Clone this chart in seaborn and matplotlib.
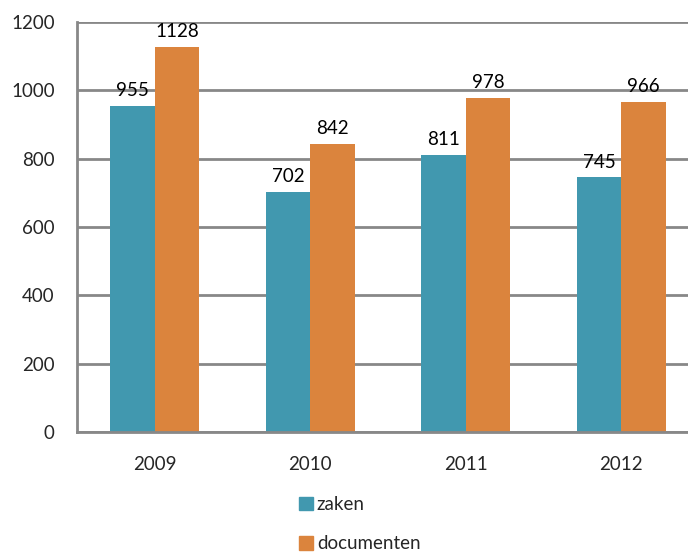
import pandas as pd
import seaborn as sns
import matplotlib.pyplot as plt
from matplotlib.patches import Patch

years = ['2009', '2010', '2011', '2012']
zaken = [955, 702, 811, 745]
documenten = [1128, 842, 978, 966]
series = ['zaken', 'documenten']
colors = ['#4198AF', '#DB843D']

df = pd.DataFrame({'jaar': years * 2,
                   'aantal': zaken + documenten,
                   'soort': ['zaken'] * 4 + ['documenten'] * 4})

sns.set_style('white')
plt.rcParams['font.family'] = ['Lato', 'DejaVu Sans']
fs = 13.5

fig = plt.figure(figsize=(6.88, 5.53), dpi=100)
ax = fig.add_axes([0.112, 0.219, 0.904, 0.741])

sns.barplot(data=df, x='jaar', y='aantal', hue='soort', hue_order=series,
            palette=colors, width=0.57, saturation=1, ax=ax, legend=False,
            edgecolor='none')

for c in ax.containers:
    ax.bar_label(c, fontsize=fs, padding=5, color='black')

ax.set_ylim(0, 1200)
ax.set_yticks(range(0, 1201, 200))
ax.set_xlim(-0.5, 3.5)
ax.set_xticks([-0.5, 0.5, 1.5, 2.5, 3.5], minor=False)
ax.set_xticklabels([''] * 5)
ax.set_xticks(range(4), minor=True)
ax.set_xticklabels(years, minor=True)
ax.tick_params(axis='x', which='minor', length=0, labelsize=fs, pad=17)
ax.tick_params(axis='x', which='major', length=6, width=2, color='#888888', direction='out')
ax.tick_params(axis='y', length=6, width=2, color='#888888', labelsize=fs, pad=10)
ax.set_xlabel('')
ax.set_ylabel('')

ax.grid(axis='y', color='#888888', linewidth=2)
ax.set_axisbelow(True)
for s in ['top', 'right']:
    ax.spines[s].set_visible(False)
for s in ['left', 'bottom']:
    ax.spines[s].set_color('#888888')
    ax.spines[s].set_linewidth(2)

handles = [Patch(color=c, label=l) for c, l in zip(colors, series)]
fig.legend(handles=handles, loc='center left', bbox_to_anchor=(0.41, 0.052),
           frameon=False, fontsize=fs, handlelength=0.75, handleheight=0.75,
           handletextpad=0.2, labelspacing=1.2)

fig.savefig('out.png', dpi=100)
